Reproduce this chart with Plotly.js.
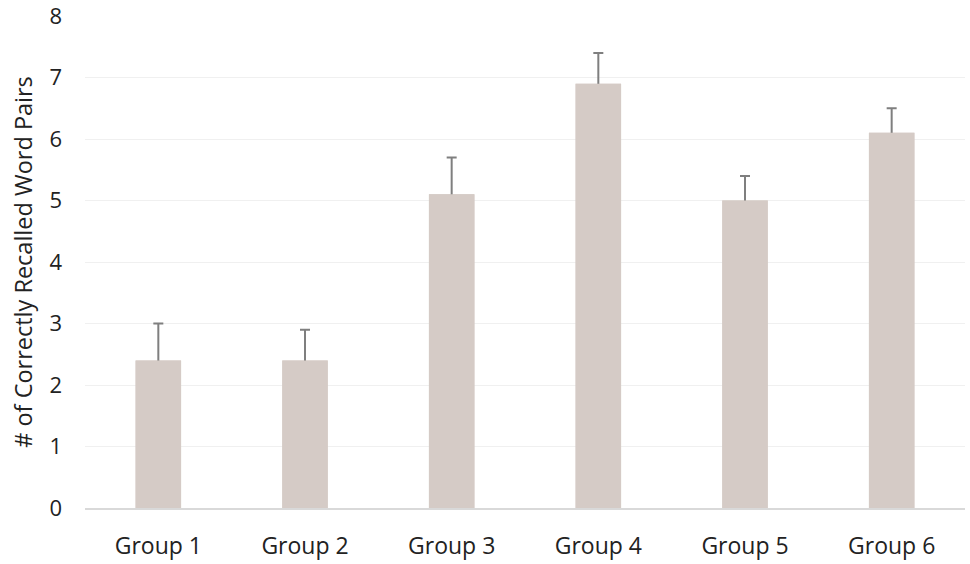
<!DOCTYPE html>
<html>
<head>
<meta charset="utf-8">
<script src="https://cdn.plot.ly/plotly-3.0.1.min.js"></script>
<style>html,body{margin:0;padding:0;background:#fff;}#chart{width:970px;height:564px;}</style>
</head>
<body>
<div id="chart"></div>
<script>
const categories = ["Group 1", "Group 2", "Group 3", "Group 4", "Group 5", "Group 6"];
const values = [2.4, 2.4, 5.1, 6.9, 5.0, 6.1];
const errors = [0.6, 0.5, 0.6, 0.5, 0.4, 0.4];
const yTicks = [0, 1, 2, 3, 4, 5, 6, 7, 8];

const barColor = "#d5cbc6";

// Bars with symmetric error bars; the lower half is hidden by an identical bar drawn on top,
// which leaves only the "plus" direction visible (as in the reference).
const errTrace = {
  type: "bar",
  x: categories,
  y: values,
  marker: {color: barColor},
  width: 0.31,
  error_y: {type: "data", array: errors, symmetric: true, color: "#7f7f7f", thickness: 2, width: 5},
  hoverinfo: "none"
};
const coverTrace = {
  type: "bar",
  x: categories,
  y: values,
  marker: {color: barColor},
  width: 0.31,
  hoverinfo: "none"
};

const layout = {
  width: 970, height: 564,
  margin: {l: 85, r: 5, t: 16, b: 56},
  barmode: "overlay",
  paper_bgcolor: "#fff", plot_bgcolor: "#fff",
  font: {family: "Open Sans, sans-serif", color: "#222"},
  showlegend: false,
  xaxis: {
    tickfont: {size: 23, color: "#222"},
    showline: true, linecolor: "#d9d9d9", linewidth: 2,
    ticks: "", showgrid: false, fixedrange: true,
    ticklabelstandoff: 16
  },
  yaxis: {
    range: [0, 8],
    tickvals: yTicks,
    tickfont: {size: 22, color: "#222"},
    ticklabeloverflow: "allow",
    showgrid: true, gridcolor: "#f0f0f0", gridwidth: 1,
    zeroline: false, showline: false, ticks: "",
    ticklabelstandoff: 22,
    title: {text: "# of Correctly Recalled Word Pairs", font: {size: 23.5, color: "#222"}, standoff: 10},
    fixedrange: true
  }
};

Plotly.newPlot("chart", [errTrace, coverTrace], layout, {displayModeBar: false, staticPlot: true});
</script>
</body>
</html>
